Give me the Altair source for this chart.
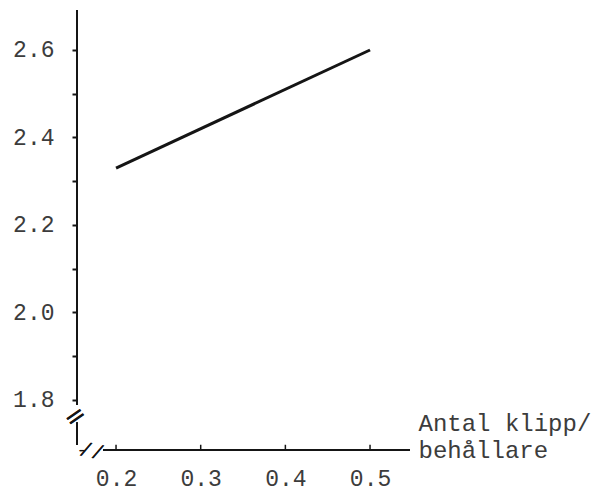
import altair as alt
import pandas as pd

# data
x_vals = [0.2, 0.5]
y_vals = [2.33, 2.60]

y_ticks = [1.8, 1.9, 2.0, 2.1, 2.2, 2.3, 2.4, 2.5, 2.6]
x_ticks = [0.2, 0.3, 0.4, 0.5]
x_title = ["Antal klipp/", "behållare"]

# scale extents
X_MIN, X_MAX = 0.1539, 0.5472
Y_MIN, Y_MAX = 1.6857, 2.6914
Y_AXIS_END = 1.7886      # y axis stops above the break
X_AXIS_START = 0.1846    # x axis starts after the break
TICK_LEN = 0.012

FONT = "Liberation Mono"
TXT = "#3c3c3c"
INK = "#151515"

df = pd.DataFrame({"x": x_vals, "y": y_vals})
ticks_df = pd.DataFrame({"x": x_ticks})

xs = alt.Scale(domain=[X_MIN, X_MAX], nice=False, zero=False)
ys = alt.Scale(domain=[Y_MIN, Y_MAX], nice=False, zero=False)

line = alt.Chart(df).mark_line(color=INK, strokeWidth=3).encode(
    x=alt.X("x:Q", scale=xs, axis=alt.Axis(
        values=x_ticks, format=".1f", domain=False, ticks=False, grid=False,
        labelFont=FONT, labelFontSize=23, labelColor=TXT, labelPadding=17,
        title=x_title, titleFont=FONT, titleFontSize=24, titleFontWeight="normal",
        titleColor=TXT, titleX=341, titleY=-39, titleAlign="left",
        titleBaseline="top", titleLineHeight=27, titleAnchor="start")),
    y=alt.Y("y:Q", scale=ys, axis=alt.Axis(
        values=y_ticks, domain=False, grid=False, tickSize=5, tickWidth=2,
        tickColor=INK, labelExpr="round(datum.value*10)%2==0 ? format(datum.value, '.1f') : ''",
        labelFont=FONT, labelFontSize=23, labelColor=TXT, labelPadding=18,
        title=None)),
)

y_axis = alt.Chart(df).mark_rule(color=INK, strokeWidth=2).encode(
    x=alt.datum(X_MIN, type="quantitative"),
    y=alt.datum(Y_MAX, type="quantitative"),
    y2=alt.datum(Y_AXIS_END),
)

y_stub = alt.Chart(df).mark_rule(color=INK, strokeWidth=2).encode(
    x=alt.datum(X_MIN, type="quantitative"),
    y=alt.datum(1.749, type="quantitative"),
    y2=alt.datum(1.697),
)

x_axis = alt.Chart(df).mark_rule(color=INK, strokeWidth=2).encode(
    x=alt.datum(X_AXIS_START, type="quantitative"),
    x2=alt.datum(X_MAX),
    y=alt.datum(Y_MIN, type="quantitative"),
)

x_tick_marks = alt.Chart(ticks_df).mark_rule(color=INK, strokeWidth=1.5).transform_calculate(
    y0=str(Y_MIN), y1=str(Y_MIN + TICK_LEN)
).encode(
    x="x:Q",
    y="y0:Q",
    y2="y1:Q",
)

brk1 = alt.Chart(df).mark_text(text="=", font="DejaVu Sans", fontSize=26, color=INK,
                               angle=325, align="center", baseline="middle").encode(
    x=alt.datum(X_MIN - 0.002, type="quantitative"),
    y=alt.datum(1.762, type="quantitative"),
)

brk2 = alt.Chart(df).mark_text(text="//", font=FONT, fontSize=20, color=INK,
                               angle=12, align="center", baseline="middle").encode(
    x=alt.datum(X_MIN + 0.0175, type="quantitative"),
    y=alt.datum(Y_MIN - 0.004, type="quantitative"),
)

brk3 = alt.Chart(df).mark_text(text="-", font=FONT, fontSize=16, color=INK,
                               align="left", baseline="middle").encode(
    x=alt.datum(X_MIN, type="quantitative"),
    y=alt.datum(Y_MIN, type="quantitative"),
)

chart = alt.layer(y_axis, y_stub, x_axis, x_tick_marks, brk1, brk2, brk3, line).properties(
    width=333, height=440,
    padding={"left": 69, "top": 2, "right": 197, "bottom": 45},
    autosize=alt.AutoSizeParams(type="none"),
).configure(background="white").configure_view(stroke=None)

chart.save("out.html", embed_options={"renderer": "svg", "actions": False})
